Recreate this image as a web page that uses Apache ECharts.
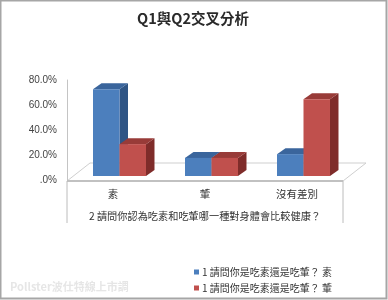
<!DOCTYPE html>
<html><head><meta charset="utf-8">
<style>html,body{margin:0;padding:0;background:#fff}#c{width:388px;height:300px;filter:blur(0.35px)}</style>
<script src="https://cdn.jsdelivr.net/npm/echarts@6/dist/echarts.min.js"></script>
</head><body><div id="c"></div>
<script>
const categories = ['素', '葷', '沒有差別'];
const seriesNames = ['1 請問你是吃素還是吃葷？ 素', '1 請問你是吃素還是吃葷？ 葷'];
const vegValues = [69.5, 14.5, 17.5];
const meatValues = [25.5, 14.5, 61.5];
const yTicks = ['.0%', '20.0%', '40.0%', '60.0%', '80.0%'];
const titleText = 'Q1與Q2交叉分析';
const axisName = '2 請問你認為吃素和吃葷哪一種對身體會比較健康？';
const watermark = 'Pollster波仕特線上市調';
const CJK = '"Noto Sans CJK TC","Noto Sans",sans-serif';
const LAT = '"Liberation Sans","Noto Sans CJK TC",sans-serif';

function barSeries(name, values, side, colors) {
  return {
    type: 'custom', name, data: values.map((v, i) => [i, v]),
    itemStyle: {color: colors[0]},
    encode: {x: 0, y: 1},
    renderItem(params, api) {
      const i = api.value(0), v = api.value(1);
      const top = api.coord([i, v]), base = api.coord([i, 0]);
      const band = api.size([1, 0])[0];
      const w = band * 0.288, dx = 8.5, dy = 6, lift = 4, shift = 6.5;
      const x0 = top[0] + shift + (side === 0 ? -w : 0), x1 = x0 + w;
      const yT = top[1] - lift, yB = base[1] - lift;
      const poly = (points, fill) => ({type: 'polygon', shape: {points}, style: {fill, stroke: null}});
      return {type: 'group', children: [
        poly([[x1, yT], [x1 + dx, yT - dy], [x1 + dx, yB - dy], [x1, yB]], colors[1]),
        poly([[x0, yT], [x0 + dx, yT - dy], [x1 + dx, yT - dy], [x1, yT]], colors[2]),
        {type: 'rect', shape: {x: x0, y: yT, width: w, height: yB - yT}, style: {fill: colors[0]}}
      ]};
    }
  };
}

const chart = echarts.init(document.getElementById('c'), null, {renderer: 'canvas'});
chart.setOption({
  animation: false,
  backgroundColor: '#fff',
  title: {text: titleText, left: 132, top: 6,
    textStyle: {fontFamily: CJK, fontSize: 14.5, fontWeight: 'bold', color: '#2a2a2a'}},
  grid: {left: 67, right: 45, top: 80, bottom: 120},
  xAxis: {type: 'category', data: categories, axisLine: {show: false}, axisTick: {show: false},
    axisLabel: {margin: 9, fontFamily: CJK, fontSize: 10.5, color: '#333'},
    name: axisName, nameLocation: 'middle', nameGap: 31,
    nameTextStyle: {fontFamily: CJK, fontSize: 10.2, color: '#333'}},
  yAxis: {type: 'value', min: 0, max: 80, interval: 20,
    splitLine: {show: false}, axisTick: {show: false},
    axisLine: {show: true, lineStyle: {color: '#c4c4c4', width: 1}},
    axisLabel: {margin: 10, fontFamily: LAT, fontSize: 10, color: '#444',
      formatter: v => yTicks[v / 20]}},
  legend: {orient: 'vertical', left: 189, top: 262, itemWidth: 5, itemHeight: 5, itemGap: 6,
    icon: 'rect', textStyle: {fontFamily: CJK, fontSize: 10, color: '#333', padding: [0, 0, 0, -2]}},
  series: [
    barSeries(seriesNames[0], vegValues, 0, ['#4c7fbd', '#2f5585', '#3a659c']),
    barSeries(seriesNames[1], meatValues, 1, ['#c0504d', '#7f2c2a', '#983b38'])
  ],
  graphic: [
    {type: 'rect', z: 0, shape: {x: 0.5, y: 0.5, width: 386, height: 298}, style: {fill: 'transparent', stroke: '#a6a6a6', lineWidth: 2}},
    {type: 'polygon', z: 0, shape: {points: [[67, 181], [90, 163], [366, 163], [343, 181]]}, style: {fill: '#fff', stroke: '#cfcfcf', lineWidth: 1}},
    {type: 'line', z: 0, shape: {x1: 67, y1: 181, x2: 343, y2: 181}, style: {stroke: '#b4b4b4', lineWidth: 1.5}},
    {type: 'line', z: 0, shape: {x1: 67, y1: 181, x2: 67, y2: 223}, style: {stroke: '#bcbcbc', lineWidth: 1}},
    {type: 'line', z: 0, shape: {x1: 343, y1: 181, x2: 343, y2: 223}, style: {stroke: '#bcbcbc', lineWidth: 1}},
    {type: 'text', z: 0, left: 10, top: 281, style: {text: watermark, fontFamily: CJK, fontSize: 11, fontWeight: 'bold', fill: '#e6e6e6'}}
  ]
});
</script></body></html>
